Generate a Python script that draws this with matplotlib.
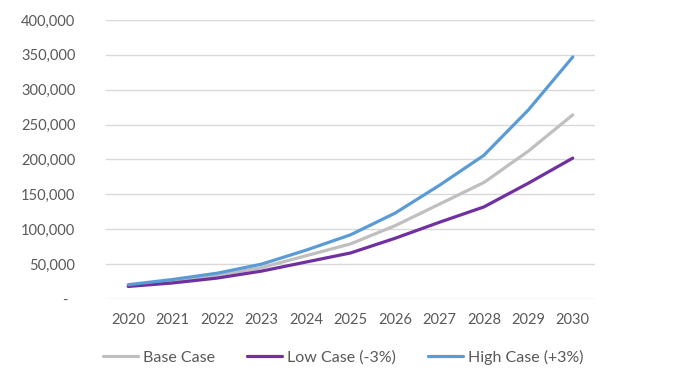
import numpy as np
import matplotlib.pyplot as plt
from matplotlib.ticker import FuncFormatter

plt.rcParams['font.family'] = ['Lato', 'DejaVu Sans']

years = ['2020', '2021', '2022', '2023', '2024', '2025',
         '2026', '2027', '2028', '2029', '2030']
base_case = [19500, 26000, 34000, 45000, 62000, 79000,
             105000, 136000, 167000, 212000, 264000]
low_case = [18000, 23000, 30000, 40000, 53000, 66000,
            87000, 110000, 132000, 166000, 202000]
high_case = [20500, 28000, 37000, 50000, 70000, 92000,
             123000, 163000, 206000, 271000, 347000]

series = [('Base Case', base_case, '#BFBFBF'),
          ('Low Case (-3%)', low_case, '#7030A0'),
          ('High Case (+3%)', high_case, '#5B9BD5')]

text_col = '#595959'


def fmt(v, pos):
    # excel accounting style: dash for zero
    if v == 0:
        return '-  '
    return '{:,.0f}'.format(v)


fig = plt.figure(figsize=(6.73, 3.70), dpi=100)
ax = fig.add_axes([106/673, 1-299/370, (595-106)/673, (299-20)/370])

x = np.arange(len(years))
for name, vals, col in series:
    ax.plot(x, vals, color=col, lw=2.3, label=name, solid_capstyle='round')

ax.set_xlim(-0.5, len(years) - 0.5)
ax.set_ylim(0, 400000)
ax.set_yticks(np.arange(0, 400001, 50000))
ax.yaxis.set_major_formatter(FuncFormatter(fmt))
ax.set_xticks(x)
ax.set_xticklabels(years)

ax.grid(axis='y', color='#D9D9D9', lw=1)
ax.set_axisbelow(True)
for s in ax.spines.values():
    s.set_visible(False)
ax.tick_params(axis='both', length=0, labelsize=10.5, colors=text_col)
ax.tick_params(axis='y', pad=22)
ax.tick_params(axis='x', pad=10)

fig.legend(loc='center', bbox_to_anchor=(343/673, 1-357/370), ncol=3,
           frameon=False, handlelength=2.2, handletextpad=0.3,
           columnspacing=2.0, fontsize=11.5, labelcolor=text_col)

fig.savefig('out.png', dpi=100)
